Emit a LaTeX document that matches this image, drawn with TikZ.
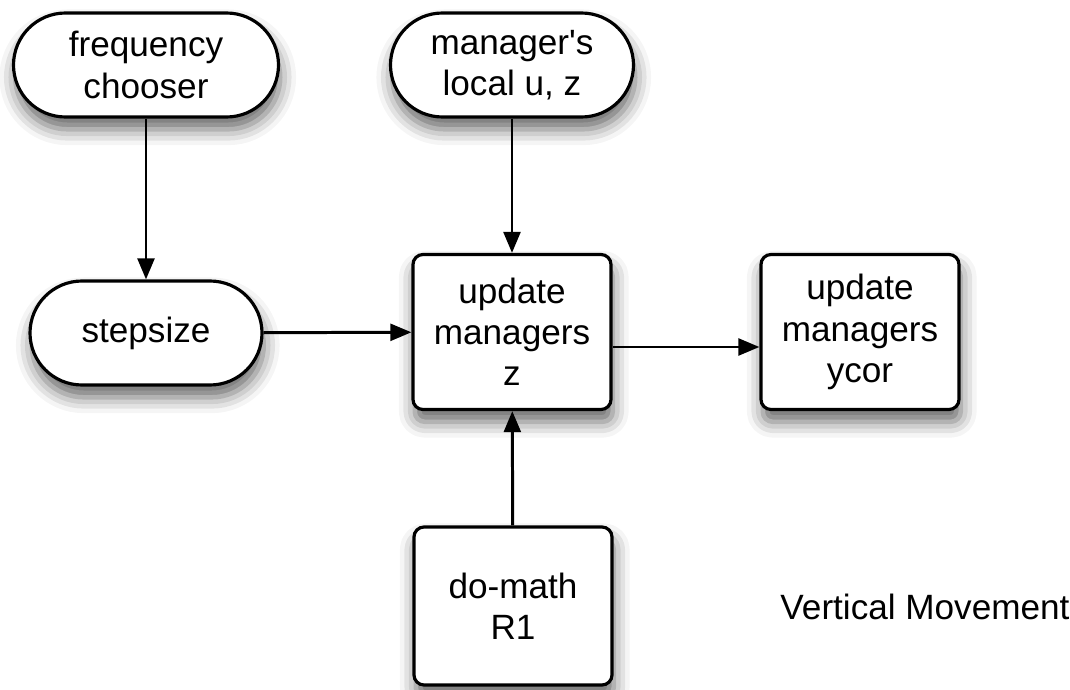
\documentclass[tikz,border=0pt]{standalone}
\usepackage{fontspec}
\setmainfont{Liberation Sans}
\usetikzlibrary{arrows.meta,shadows.blur}
\tikzset{
  txt/.style={font=\fontsize{10}{11.7}\selectfont,align=center},
  shade/.style={blur shadow={shadow xshift=0.5pt,shadow yshift=-3.5pt,shadow blur radius=4.5pt,shadow opacity=60}},
  pill/.style={txt,draw,line width=0.9pt,fill=white,rounded corners=5.2mm,minimum height=10.4mm,shade},
  task/.style={txt,draw,line width=0.9pt,fill=white,rounded corners=1mm,minimum width=19.8mm,minimum height=15.5mm,shade}
}
\begin{document}
\begin{tikzpicture}[>={Triangle[length=6pt,width=4.8pt]}]
\useasboundingbox (0,0) rectangle (10.7,-6.9);
\node[pill,minimum width=26.5mm] (freq) at (1.46,-0.65) {frequency\\chooser};
\node[pill,minimum width=24.3mm] (local) at (5.12,-0.65) {manager\textquotesingle s\\local u, z};
\node[pill,minimum width=23.2mm] (stepsize) at (1.46,-3.33) {stepsize};
\node[task] (updz) at (5.12,-3.32) {update\\managers\\z};
\node[task] (updy) at (8.60,-3.32) {update\\managers\\ycor};
\node[task,minimum height=15.8mm] (domath) at (5.13,-6.06) {do-math\\R1};
\node[txt] (title) at (9.25,-6.07) {Vertical Movement};
\draw[line width=0.85pt,->] (freq) -- (stepsize);
\draw[line width=0.85pt,->] (local) -- (updz);
\draw[line width=0.85pt,->] (stepsize) -- (updz);
\draw[line width=0.85pt,->] ([yshift=-1.5mm]updz.east) -- ([yshift=-1.5mm]updy.west);
\draw[line width=0.85pt,->] (domath) -- (updz);
\end{tikzpicture}
\end{document}
